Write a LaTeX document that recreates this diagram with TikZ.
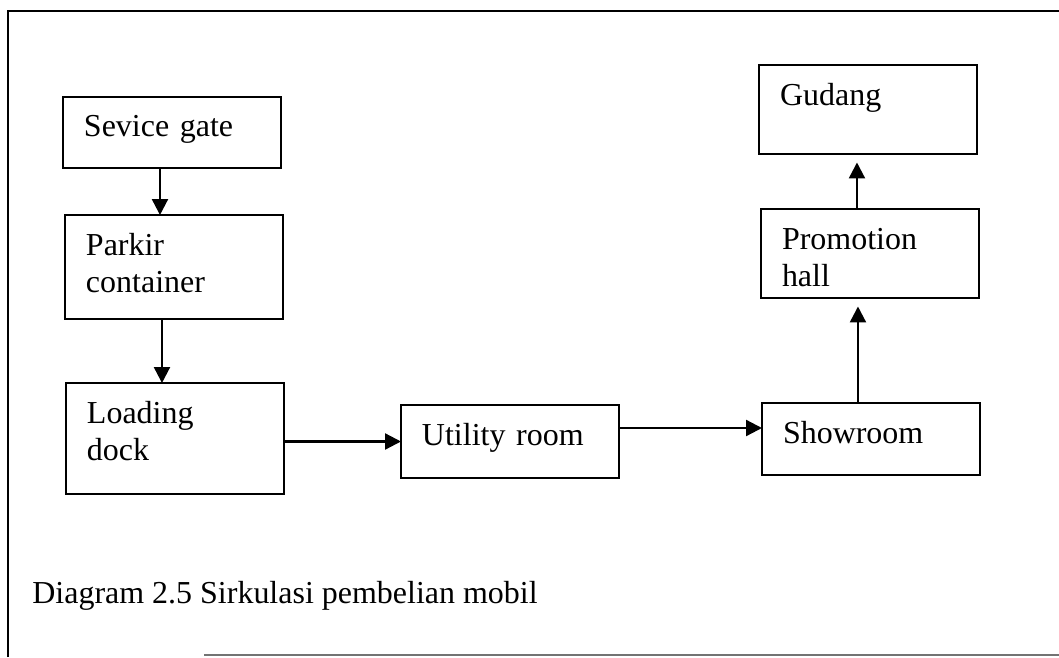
\documentclass[tikz,border=0pt]{standalone}
\usepackage{fontspec}
\setmainfont{Liberation Serif}
\usetikzlibrary{arrows.meta,calc}

\begin{document}
\begin{tikzpicture}[
    x=0.02cm, y=-0.02cm,
    font=\fontsize{18.2}{21.6}\selectfont,
    >={Triangle[length=0.32cm, width=0.32cm]},
    room/.style={draw, line width=1.5pt, anchor=north west, align=left, text width=3.52cm, inner xsep=0.42cm, inner ysep=0pt, outer sep=0pt, text height=0.8cm},
    arrow/.style={->, line width=1.3pt},
    uparrow/.style={arrow, shorten >=0.17cm},
    frame/.style={line width=1.5pt},
    bottomline/.style={black!55, line width=1.2pt},
    caption/.style={anchor=base west, inner sep=0pt},
]
    \useasboundingbox (0,0) rectangle (1059,657);

    % =====================================================================
    % FRAME
    % =====================================================================
    \draw[frame] (8,657) -- (8,11) -- (1059,11);
    \draw[bottomline] (204,655) -- (1059,655);

    % =====================================================================
    % LEFT COLUMN: gate -> parkir -> loading dock
    % =====================================================================
    \node[room, text depth=0.62cm] (sg) at (63,97) {Sevice gate};
    \node[room, text depth=1.28cm] (pc) at (65,215) {Parkir\\container};
    \node[room, text depth=1.42cm] (ld) at (66,383) {Loading\\dock};

    \draw[arrow] ([xshift=-0.24cm]sg.south) -- ([xshift=-0.24cm]sg.south |- pc.north);
    \draw[arrow] ([xshift=-0.24cm]pc.south) -- ([xshift=-0.24cm]pc.south |- ld.north);

    % =====================================================================
    % BOTTOM ROW: utility room -> showroom
    % =====================================================================
    \node[room, text depth=0.66cm] (ur) at (401,405) {Utility room};
    \node[room, text depth=0.64cm] (sr) at (762,403) {Showroom};

    \draw[arrow] (ur.west -| ld.east) -- (ur.west);
    \draw[arrow] ([yshift=0.27cm]ur.east) -- ([yshift=0.27cm]ur.east -| sr.west);

    % =====================================================================
    % RIGHT COLUMN: showroom -> promotion hall -> gudang
    % =====================================================================
    \node[room, text depth=0.98cm] (ph) at (761,209) {Promotion\\hall};
    \node[room, text depth=0.98cm] (gd) at (759,65) {Gudang};

    \draw[uparrow] ([xshift=-0.26cm]sr.north) -- ([xshift=-0.26cm]sr.north |- ph.south);
    \draw[uparrow] ([xshift=-0.26cm]ph.north) -- ([xshift=-0.26cm]ph.north |- gd.south);

    % Caption
    \node[caption] (cap) at (32,603) {Diagram 2.5 Sirkulasi pembelian mobil};

\end{tikzpicture}
\end{document}
